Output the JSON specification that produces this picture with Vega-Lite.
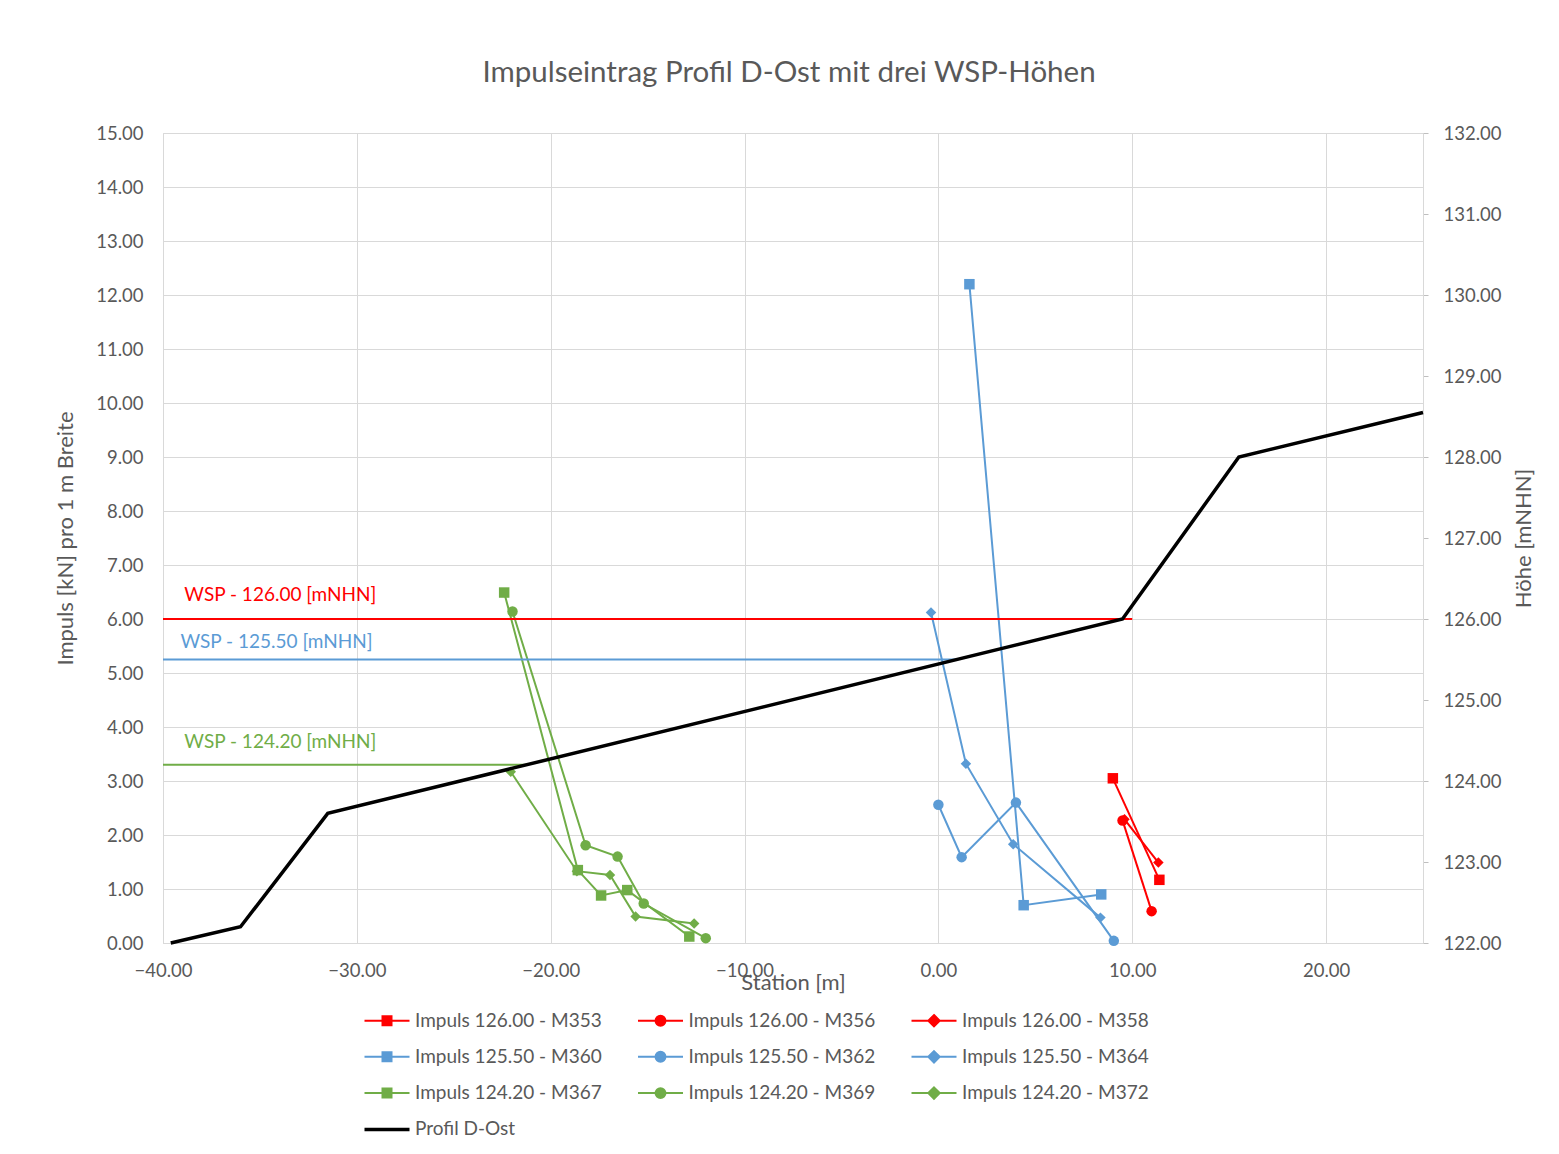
{
  "$schema": "https://vega.github.io/schema/vega-lite/v6.json",
  "width": 1260,
  "height": 810,
  "autosize": {"type": "none"},
  "padding": {"left": 163, "top": 133, "right": 136, "bottom": 211},
  "background": "white",
  "config": {
    "font": "Lato",
    "view": {"stroke": "#d9d9d9", "strokeWidth": 1},
    "axis": {
      "labelFont": "Lato", "labelFontSize": 18.5, "labelColor": "#595959",
      "titleFont": "Lato", "titleFontSize": 22, "titleColor": "#595959", "titleFontWeight": "normal",
      "gridColor": "#d9d9d9", "gridWidth": 1, "domainColor": "#d9d9d9", "tickColor": "#bfbfbf", "labelFlush": false
    }
  },
  "title": {
    "text": "Impulseintrag Profil D-Ost mit drei WSP-Höhen",
    "font": "Lato", "fontSize": 29.5, "fontWeight": "normal", "color": "#595959",
    "anchor": "middle", "offset": 36, "dx": -4
  },
  "datasets": {
    "impuls": [
      {"s": "Impuls 126.00 - M353", "i": 0, "x": 9.0, "y": 3.05},
      {"s": "Impuls 126.00 - M353", "i": 1, "x": 11.4, "y": 1.17},
      {"s": "Impuls 126.00 - M356", "i": 0, "x": 9.5, "y": 2.27},
      {"s": "Impuls 126.00 - M356", "i": 1, "x": 11.0, "y": 0.59},
      {"s": "Impuls 126.00 - M358", "i": 0, "x": 9.6, "y": 2.29},
      {"s": "Impuls 126.00 - M358", "i": 1, "x": 11.35, "y": 1.49},
      {"s": "Impuls 125.50 - M360", "i": 0, "x": 1.6, "y": 12.2},
      {"s": "Impuls 125.50 - M360", "i": 1, "x": 4.4, "y": 0.7},
      {"s": "Impuls 125.50 - M360", "i": 2, "x": 8.4, "y": 0.9},
      {"s": "Impuls 125.50 - M362", "i": 0, "x": 0.0, "y": 2.56},
      {"s": "Impuls 125.50 - M362", "i": 1, "x": 1.2, "y": 1.59},
      {"s": "Impuls 125.50 - M362", "i": 2, "x": 4.0, "y": 2.6},
      {"s": "Impuls 125.50 - M362", "i": 3, "x": 9.05, "y": 0.04},
      {"s": "Impuls 125.50 - M364", "i": 0, "x": -0.38, "y": 6.12},
      {"s": "Impuls 125.50 - M364", "i": 1, "x": 1.42, "y": 3.32},
      {"s": "Impuls 125.50 - M364", "i": 2, "x": 3.86, "y": 1.83},
      {"s": "Impuls 125.50 - M364", "i": 3, "x": 8.36, "y": 0.47},
      {"s": "Impuls 124.20 - M367", "i": 0, "x": -22.4, "y": 6.49},
      {"s": "Impuls 124.20 - M367", "i": 1, "x": -18.6, "y": 1.35},
      {"s": "Impuls 124.20 - M367", "i": 2, "x": -17.4, "y": 0.88},
      {"s": "Impuls 124.20 - M367", "i": 3, "x": -16.05, "y": 0.98},
      {"s": "Impuls 124.20 - M367", "i": 4, "x": -12.85, "y": 0.12},
      {"s": "Impuls 124.20 - M369", "i": 0, "x": -21.97, "y": 6.14},
      {"s": "Impuls 124.20 - M369", "i": 1, "x": -18.2, "y": 1.81},
      {"s": "Impuls 124.20 - M369", "i": 2, "x": -16.55, "y": 1.6},
      {"s": "Impuls 124.20 - M369", "i": 3, "x": -15.2, "y": 0.73},
      {"s": "Impuls 124.20 - M369", "i": 4, "x": -12.0, "y": 0.09},
      {"s": "Impuls 124.20 - M372", "i": 0, "x": -22.06, "y": 3.17},
      {"s": "Impuls 124.20 - M372", "i": 1, "x": -18.65, "y": 1.33},
      {"s": "Impuls 124.20 - M372", "i": 2, "x": -16.94, "y": 1.26},
      {"s": "Impuls 124.20 - M372", "i": 3, "x": -15.62, "y": 0.49},
      {"s": "Impuls 124.20 - M372", "i": 4, "x": -12.6, "y": 0.36}
    ],
    "profil": [
      {"s": "Profil D-Ost", "i": 0, "x": -39.6, "h": 122.0},
      {"s": "Profil D-Ost", "i": 1, "x": -36.0, "h": 122.2},
      {"s": "Profil D-Ost", "i": 2, "x": -31.5, "h": 123.6},
      {"s": "Profil D-Ost", "i": 3, "x": 9.5, "h": 126.0},
      {"s": "Profil D-Ost", "i": 4, "x": 15.5, "h": 128.0},
      {"s": "Profil D-Ost", "i": 5, "x": 25.0, "h": 128.55}
    ],
    "wsp": [
      {"s": "WSP - 126.00 [mNHN]", "x": -40, "x2": 10.0, "h": 126.0, "lx": -38.9, "ly": 126.3},
      {"s": "WSP - 125.50 [mNHN]", "x": -40, "x2": 1.0, "h": 125.5, "lx": -39.1, "ly": 125.72},
      {"s": "WSP - 124.20 [mNHN]", "x": -40, "x2": -21.25, "h": 124.2, "lx": -38.9, "ly": 124.48}
    ]
  },
  "layer": [
    {
      "data": {"name": "impuls"},
      "layer": [
        {
          "mark": {"type": "line", "strokeWidth": 2},
          "encoding": {
            "x": {"field": "x", "type": "quantitative", "scale": {"domain": [-40, 25], "nice": false, "zero": false}, "axis": {"values": [-40, -30, -20, -10, 0, 10, 20], "format": ".2f", "title": "Station [m]", "grid": true, "ticks": false, "labelPadding": 18, "titleY": 29, "titleBaseline": "top"}},
            "y": {"field": "y", "type": "quantitative", "scale": {"domain": [0, 15], "nice": false, "zero": false}, "axis": {"orient": "left", "values": [0,1,2,3,4,5,6,7,8,9,10,11,12,13,14,15], "format": ".2f", "title": "Impuls [kN] pro 1 m Breite", "grid": true, "ticks": false, "domain": false, "labelPadding": 20, "titlePadding": 18}},
            "color": {"field": "s", "type": "nominal",
              "scale": {"domain": ["Impuls 126.00 - M353","Impuls 126.00 - M356","Impuls 126.00 - M358","Impuls 125.50 - M360","Impuls 125.50 - M362","Impuls 125.50 - M364","Impuls 124.20 - M367","Impuls 124.20 - M369","Impuls 124.20 - M372","Profil D-Ost","WSP - 126.00 [mNHN]","WSP - 125.50 [mNHN]","WSP - 124.20 [mNHN]"],
                "range": ["#FF0000","#FF0000","#FF0000","#5B9BD5","#5B9BD5","#5B9BD5","#70AD47","#70AD47","#70AD47","#000000","#FF0000","#5B9BD5","#70AD47"]},
              "legend": {
                "title": null, "orient": "none", "legendX": 207, "legendY": 878, "columns": 3, "direction": "horizontal",
                "values": ["Impuls 126.00 - M353","Impuls 126.00 - M356","Impuls 126.00 - M358","Impuls 125.50 - M360","Impuls 125.50 - M362","Impuls 125.50 - M364","Impuls 124.20 - M367","Impuls 124.20 - M369","Impuls 124.20 - M372","Profil D-Ost"],
                "symbolSize": 900, "symbolType": "M-1,0H2", "symbolStrokeWidth": 2,
                "labelFont": "Lato", "labelFontSize": 19, "labelColor": "#595959", "labelOffset": 26, "labelLimit": 400,
                "columnPadding": 31.5, "rowPadding": 15.3, "padding": 0, "gridAlign": "all",
                "encode": {"symbols": {"update": {
                  "shape": {"signal": "(datum.value === 'Impuls 126.00 - M353' || datum.value === 'Impuls 125.50 - M360' || datum.value === 'Impuls 124.20 - M367') ? 'M-1,0H2M0.2,-0.3H0.8V0.3H0.2Z' : (datum.value === 'Impuls 126.00 - M356' || datum.value === 'Impuls 125.50 - M362' || datum.value === 'Impuls 124.20 - M369') ? 'M-1,0H2M0.17,0A0.33,0.33,0,1,1,0.83,0A0.33,0.33,0,1,1,0.17,0Z' : (datum.value === 'Impuls 126.00 - M358' || datum.value === 'Impuls 125.50 - M364' || datum.value === 'Impuls 124.20 - M372') ? 'M-1,0H2M0.5,-0.38L0.88,0L0.5,0.38L0.12,0Z' : 'M-1,0H2'"},
                  "fill": {"signal": "scale('color', datum.value)"},
                  "stroke": {"signal": "scale('color', datum.value)"},
                  "strokeWidth": {"signal": "datum.value === 'Profil D-Ost' ? 3.5 : 2"},
                  "opacity": {"value": 1}
                }}}
              }},
            "order": {"field": "i", "type": "quantitative"}
          }
        },
        {
          "mark": {"type": "point", "filled": true, "opacity": 1, "size": 110},
          "encoding": {
            "x": {"field": "x", "type": "quantitative", "scale": {"domain": [-40, 25], "nice": false, "zero": false}, "axis": {"values": [-40, -30, -20, -10, 0, 10, 20], "format": ".2f", "title": "Station [m]", "grid": true, "ticks": false, "labelPadding": 18, "titleY": 29, "titleBaseline": "top"}},
            "y": {"field": "y", "type": "quantitative", "scale": {"domain": [0, 15], "nice": false, "zero": false}, "axis": {"orient": "left", "values": [0,1,2,3,4,5,6,7,8,9,10,11,12,13,14,15], "format": ".2f", "title": "Impuls [kN] pro 1 m Breite", "grid": true, "ticks": false, "domain": false, "labelPadding": 20, "titlePadding": 18}},
            "color": {"field": "s", "type": "nominal"},
            "shape": {"field": "s", "type": "nominal", "legend": null,
              "scale": {"domain": ["Impuls 126.00 - M353","Impuls 126.00 - M356","Impuls 126.00 - M358","Impuls 125.50 - M360","Impuls 125.50 - M362","Impuls 125.50 - M364","Impuls 124.20 - M367","Impuls 124.20 - M369","Impuls 124.20 - M372"],
                "range": ["square","circle","diamond","square","circle","diamond","square","circle","diamond"]}}
          }
        }
      ]
    },
    {
      "layer": [
        {
          "data": {"name": "wsp"},
          "mark": {"type": "rule", "strokeWidth": 2},
          "encoding": {
            "x": {"field": "x", "type": "quantitative", "scale": {"domain": [-40, 25], "nice": false, "zero": false}, "axis": {"values": [-40, -30, -20, -10, 0, 10, 20], "format": ".2f", "title": "Station [m]", "grid": true, "ticks": false, "labelPadding": 18, "titleY": 29, "titleBaseline": "top"}},
            "x2": {"field": "x2"},
            "y": {"field": "h", "type": "quantitative", "scale": {"domain": [122, 132], "nice": false, "zero": false}, "axis": {"orient": "right", "values": [122,123,124,125,126,127,128,129,130,131,132], "format": ".2f", "title": "Höhe [mNHN]", "grid": false, "ticks": true, "tickSize": 5, "labelPadding": 15, "titlePadding": 12, "titleAngle": -90, "titleBaseline": "top"}},
            "color": {"field": "s", "type": "nominal"}
          }
        },
        {
          "data": {"name": "wsp"},
          "mark": {"type": "text", "align": "left", "baseline": "middle", "font": "Lato", "fontSize": 19},
          "encoding": {
            "x": {"field": "lx", "type": "quantitative"},
            "y": {"field": "ly", "type": "quantitative"},
            "text": {"field": "s"},
            "color": {"field": "s", "type": "nominal"}
          }
        },
        {
          "data": {"name": "profil"},
          "mark": {"type": "line", "strokeWidth": 3.5},
          "encoding": {
            "x": {"field": "x", "type": "quantitative"},
            "y": {"field": "h", "type": "quantitative"},
            "color": {"field": "s", "type": "nominal"},
            "order": {"field": "i", "type": "quantitative"}
          }
        }
      ]
    }
  ],
  "resolve": {"scale": {"y": "independent"}}
}
